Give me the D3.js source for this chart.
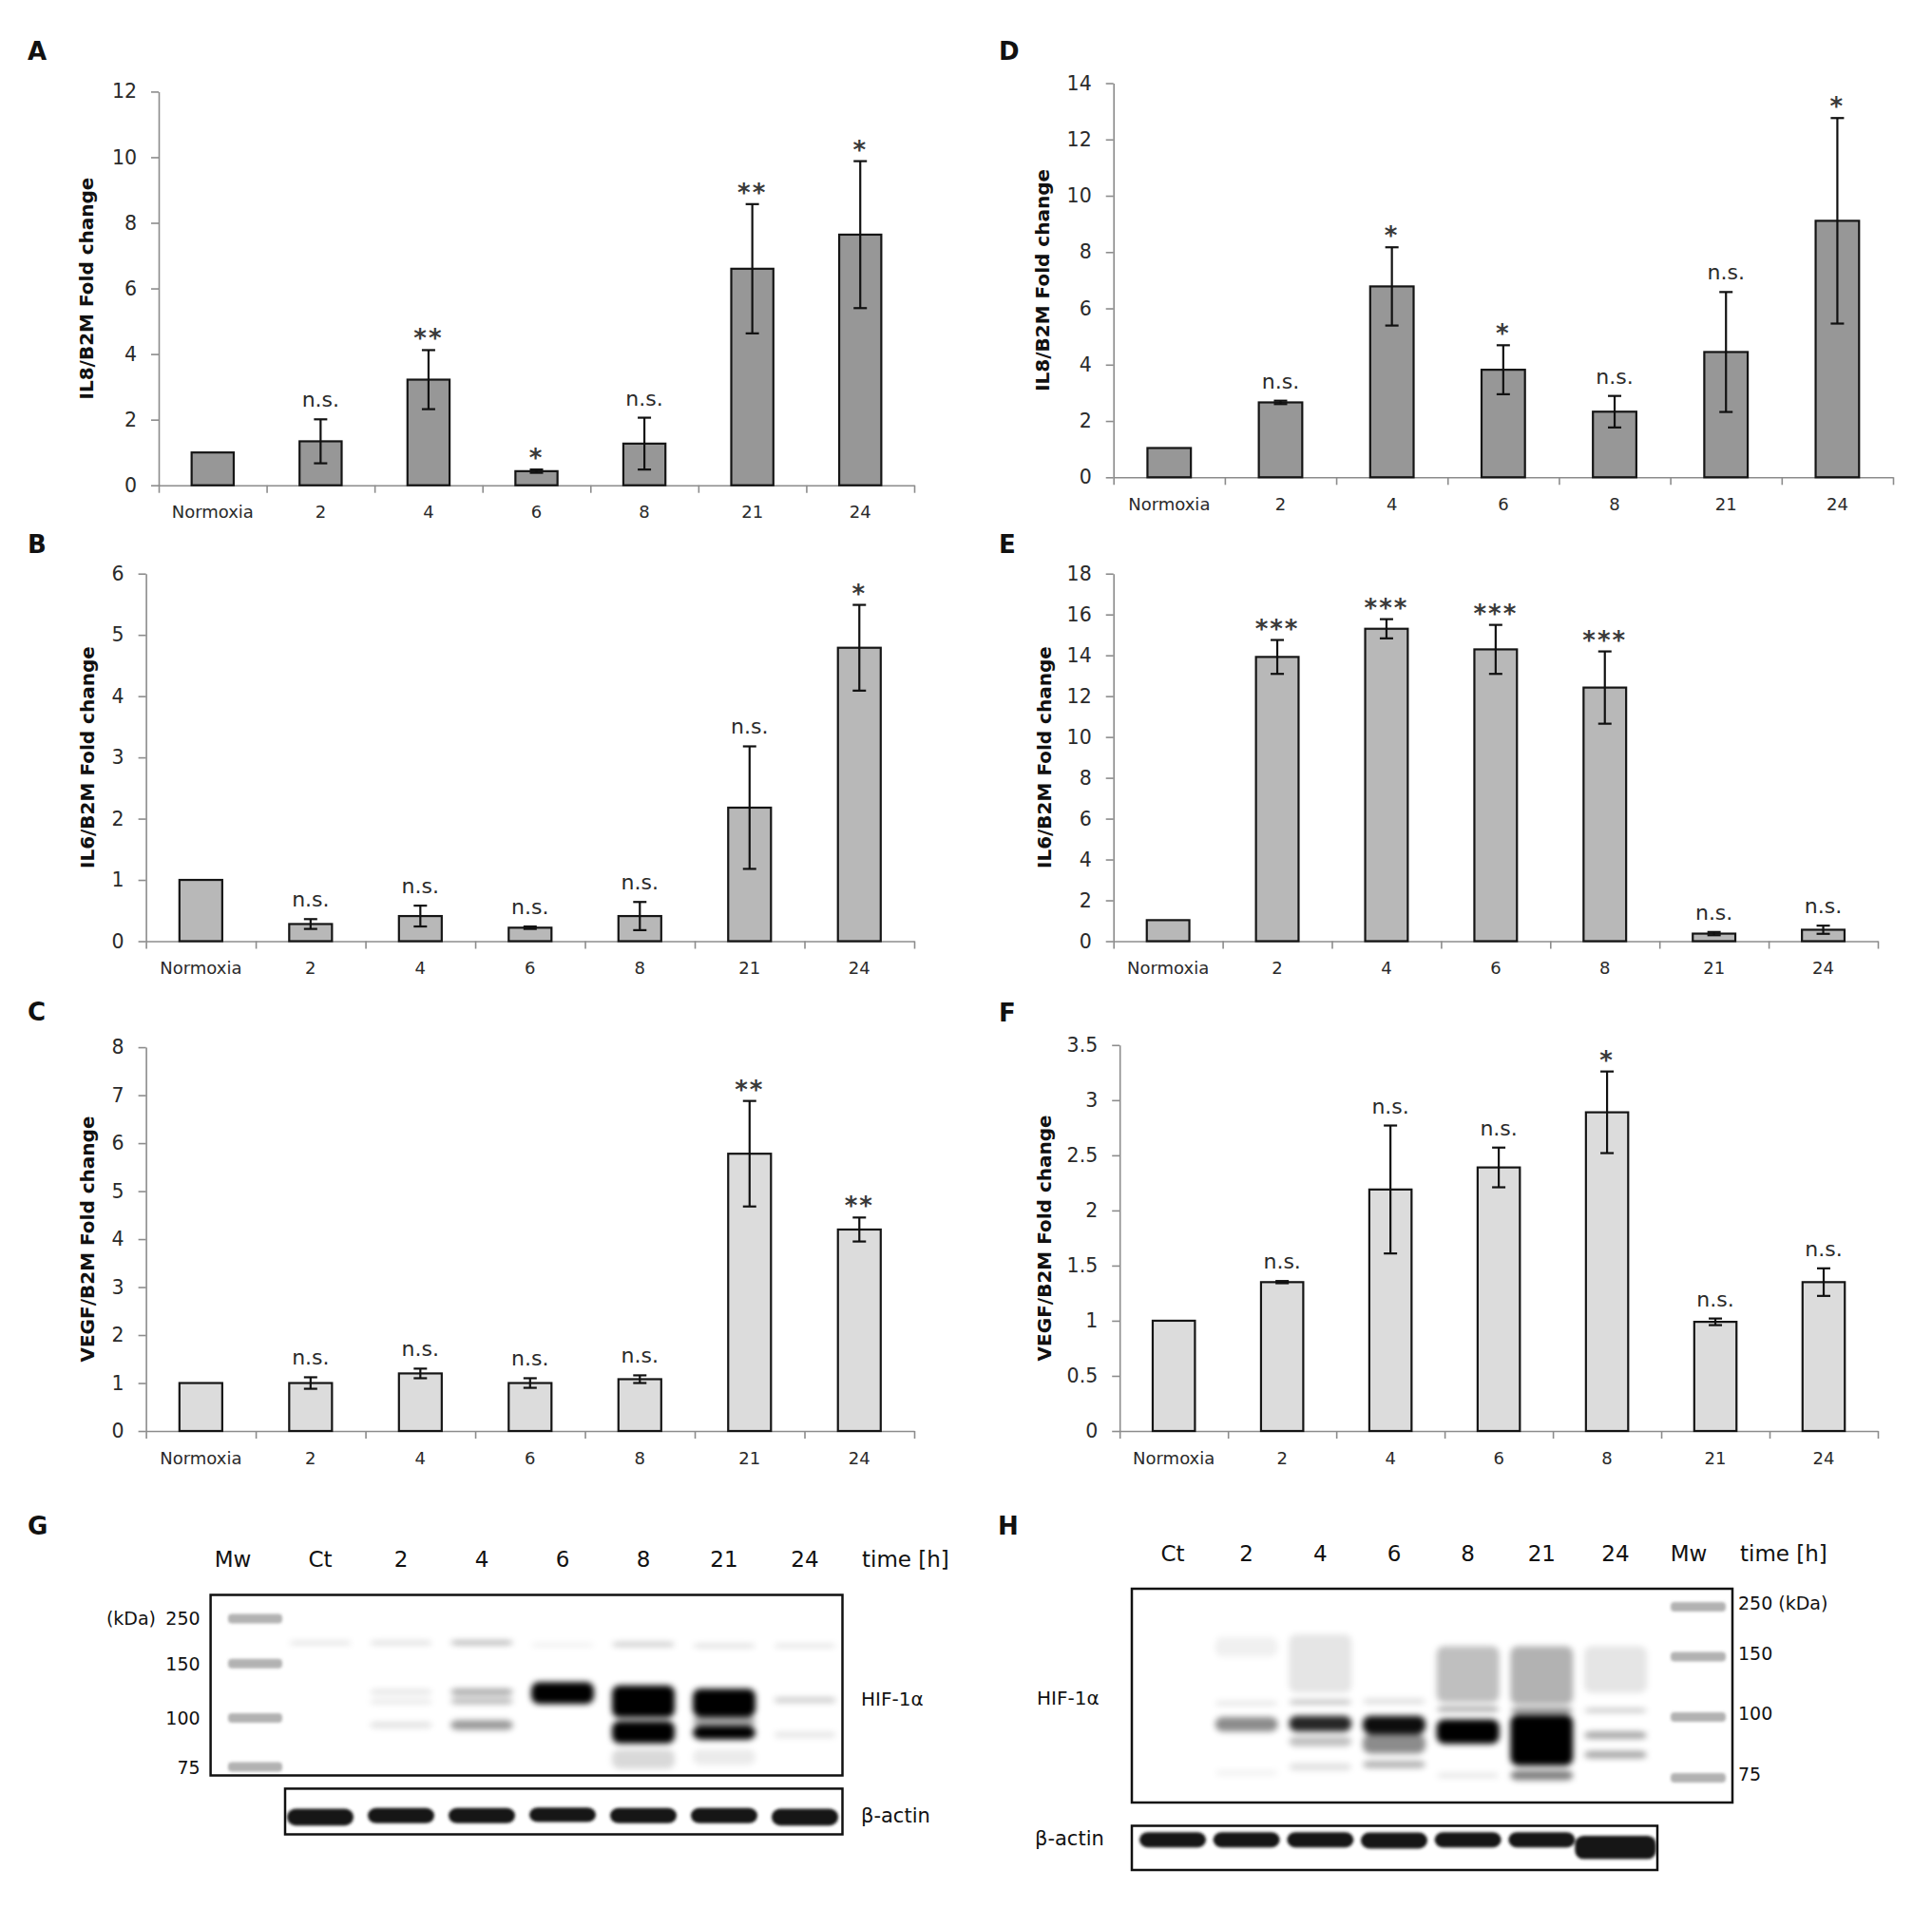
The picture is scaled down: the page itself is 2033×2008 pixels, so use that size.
<!DOCTYPE html>
<html>
<head>
<meta charset="utf-8">
<script src="https://cdn.jsdelivr.net/npm/d3@7"></script>
<style>
  body { margin: 0; background: #fff; }
</style>
</head>
<body>
<script>
// categories shared by all qPCR panels
const categories = ["Normoxia", "2", "4", "6", "8", "21", "24"];

// A: IL8 (left)
const il8LeftMean = [1.0, 1.34, 3.22, 0.43, 1.27, 6.6, 7.64];
const il8LeftErr  = [0, 0.67, 0.9, 0.05, 0.79, 1.97, 2.24];
const il8LeftSig  = ["", "n.s.", "**", "*", "n.s.", "**", "*"];
// D: IL8 (right)
const il8RightMean = [1.04, 2.66, 6.78, 3.82, 2.33, 4.45, 9.11];
const il8RightErr  = [0, 0.06, 1.39, 0.87, 0.56, 2.13, 3.65];
const il8RightSig  = ["", "n.s.", "*", "*", "n.s.", "n.s.", "*"];
// B: IL6 (left)
const il6LeftMean = [1.0, 0.28, 0.41, 0.22, 0.41, 2.18, 4.79];
const il6LeftErr  = [0, 0.08, 0.17, 0.02, 0.23, 1.0, 0.7];
const il6LeftSig  = ["", "n.s.", "n.s.", "n.s.", "n.s.", "n.s.", "*"];
// E: IL6 (right)
const il6RightMean = [1.03, 13.92, 15.3, 14.29, 12.42, 0.37, 0.56];
const il6RightErr  = [0, 0.83, 0.47, 1.2, 1.77, 0.08, 0.2];
const il6RightSig  = ["", "***", "***", "***", "***", "n.s.", "n.s."];
// C: VEGF (left)
const vegfLeftMean = [1.0, 1.0, 1.2, 1.0, 1.08, 5.78, 4.2];
const vegfLeftErr  = [0, 0.12, 0.1, 0.1, 0.08, 1.1, 0.25];
const vegfLeftSig  = ["", "n.s.", "n.s.", "n.s.", "n.s.", "**", "**"];
// F: VEGF (right)
const vegfRightMean = [1.0, 1.35, 2.19, 2.39, 2.89, 0.99, 1.35];
const vegfRightErr  = [0, 0.01, 0.58, 0.18, 0.37, 0.03, 0.125];
const vegfRightSig  = ["", "n.s.", "n.s.", "n.s.", "*", "n.s.", "n.s."];

// western blots
const blotLanes = ["Ct", "2", "4", "6", "8", "21", "24"];
const ladderKDa = [250, 150, 100, 75];
// [lane, kDa upper edge, kDa lower edge, signal 0..1]
const hifBandsG = [
  ["Ct", 200, 194, 0.12], ["2", 200, 194, 0.15], ["4", 201, 193, 0.35],
  ["6", 196, 190, 0.07], ["8", 197, 190, 0.25], ["21", 194, 188, 0.15], ["24", 194, 188, 0.12],
  ["2", 126, 122, 0.12], ["2", 117, 113, 0.1], ["2", 98, 95, 0.12],
  ["4", 127, 121, 0.35], ["4", 118, 113, 0.3], ["4", 99, 94, 0.4],
  ["6", 133, 113, 1],
  ["8", 130, 100.5, 1], ["8", 98.5, 87, 1], ["8", 84, 74, 0.15],
  ["21", 127, 101, 1], ["21", 101, 96, 0.35], ["21", 96, 89, 1], ["21", 84, 76, 0.08],
  ["24", 119, 114, 0.2], ["24", 93, 90, 0.1]
];
const hifBandsH = [
  ["2", 189, 150, 0.06], ["2", 113, 110, 0.12], ["2", 100, 94, 0.45], ["2", 78, 76, 0.06],
  ["4", 195, 120, 0.1], ["4", 114, 111, 0.3], ["4", 101, 94, 0.85], ["4", 92, 88, 0.25], ["4", 81, 78, 0.12],
  ["6", 115, 111, 0.15], ["6", 101, 93, 0.95], ["6", 93, 85, 0.45], ["6", 82, 79, 0.3],
  ["8", 171, 112, 0.25], ["8", 108, 106, 0.45], ["8", 99, 89, 1], ["8", 77, 75, 0.1],
  ["21", 171, 110, 0.3], ["21", 107, 104, 0.6], ["21", 102, 80, 1], ["21", 78, 74, 0.5],
  ["24", 171, 120, 0.1], ["24", 107, 105, 0.25], ["24", 94, 91, 0.35], ["24", 86, 83, 0.35]
];
const actinG = [1.05, 0.95, 0.95, 0.9, 0.95, 0.95, 1.05];
const actinH = [0.95, 0.95, 0.95, 1, 0.95, 0.95, 1.45];

const FONT = "'DejaVu Sans', Verdana, sans-serif";

const svg = d3.select("body").append("svg")
  .attr("width", 2033).attr("height", 2008)
  .style("font-family", FONT);

const defs = svg.append("defs");
defs.append("filter").attr("id", "blur").attr("x", "-20%").attr("y", "-100%").attr("width", "140%").attr("height", "300%")
  .append("feGaussianBlur").attr("stdDeviation", 3);
defs.append("filter").attr("id", "blurSoft").attr("x", "-20%").attr("y", "-100%").attr("width", "140%").attr("height", "300%")
  .append("feGaussianBlur").attr("stdDeviation", 1.6);

// panel letter
const letter = (t, x, y) => svg.append("text").attr("x", x).attr("y", y)
  .attr("font-size", 26).attr("font-weight", "bold").attr("fill", "#111").text(t);

//bar chart with error bars and significance marks
const barPanel = (p, means, errs, sig, fill, title) => {
  const g = svg.append("g");
  const x = d3.scaleBand().domain(categories).range([p.x0, p.x1]);
  const y = d3.scaleLinear().domain([0, p.max]).range([p.yBot, p.yTop]);
  const xEdge = d3.scaleLinear().domain([0, categories.length]).range([p.x0, p.x1]);

  const yAxis = g.append("g").attr("transform", `translate(${p.x0},0)`)
    .call(d3.axisLeft(y)
      .tickValues(d3.range(0, p.max + 1e-9, p.step))
      .tickFormat(d3.format("~g"))
      .tickSize(8).tickSizeOuter(0).tickPadding(15));
  yAxis.select(".domain").attr("stroke", "#8c8c8c").attr("stroke-width", 1.6);
  yAxis.selectAll(".tick line").attr("stroke", "#8c8c8c").attr("stroke-width", 1.6);
  yAxis.selectAll(".tick text").attr("font-family", FONT).attr("font-size", 20.5).attr("fill", "#2a2a2a");

  const xAxis = g.append("g").attr("transform", `translate(0,${p.yBot})`)
    .call(d3.axisBottom(xEdge).tickValues(d3.range(categories.length + 1))
      .tickFormat("").tickSize(8).tickSizeOuter(0));
  xAxis.select(".domain").attr("stroke", "#8c8c8c").attr("stroke-width", 1.6);
  xAxis.selectAll(".tick line").attr("stroke", "#8c8c8c").attr("stroke-width", 1.6);

  const xLabels = g.append("g").attr("transform", `translate(0,${p.yBot})`)
    .call(d3.axisBottom(x).tickSize(0).tickPadding(22));
  xLabels.select(".domain").remove();
  xLabels.selectAll(".tick text").attr("font-family", FONT).attr("font-size", 18).attr("fill", "#2a2a2a");

  const bw = x.bandwidth() * 0.39;
  const rows = categories.map((c, i) => ({ c, m: means[i], e: errs[i], s: sig[i] }));

  g.append("g").selectAll("rect").data(rows).join("rect")
    .attr("x", d => x(d.c) + (x.bandwidth() - bw) / 2)
    .attr("y", d => y(d.m))
    .attr("width", bw)
    .attr("height", d => y(0) - y(d.m))
    .attr("fill", fill).attr("stroke", "#151515").attr("stroke-width", 2.2);

  const cx = d => x(d.c) + x.bandwidth() / 2;
  const eb = g.append("g").attr("stroke", "#111").attr("stroke-width", 2.2)
    .selectAll("g").data(rows.filter(d => d.e > 0)).join("g");
  eb.append("line").attr("x1", cx).attr("x2", cx)
    .attr("y1", d => y(d.m + d.e)).attr("y2", d => y(d.m - d.e));
  eb.append("line").attr("x1", d => cx(d) - 7).attr("x2", d => cx(d) + 7)
    .attr("y1", d => y(d.m + d.e)).attr("y2", d => y(d.m + d.e));
  eb.append("line").attr("x1", d => cx(d) - 7).attr("x2", d => cx(d) + 7)
    .attr("y1", d => y(d.m - d.e)).attr("y2", d => y(d.m - d.e));

  g.append("g").selectAll("text").data(rows.filter(d => d.s)).join("text")
    .attr("x", cx)
    .attr("y", d => y(d.m + d.e) - (d.s === "n.s." ? 13 : 3))
    .attr("text-anchor", "middle")
    .attr("font-size", d => d.s === "n.s." ? 22 : 26)
    .attr("font-weight", d => d.s === "n.s." ? "normal" : "bold")
    .attr("letter-spacing", d => d.s === "n.s." ? 0 : 2)
    .attr("fill", d => d.s === "n.s." ? "#2a2a2a" : "#3a3a3a")
    .text(d => d.s);

  g.append("text")
    .attr("transform", `translate(${p.titleX},${(p.yTop + p.yBot) / 2}) rotate(-90)`)
    .attr("dy", "0.35em").attr("text-anchor", "middle")
    .attr("font-size", 20).attr("font-weight", "bold").attr("fill", "#111")
    .text(title);
};

const gray1 = "#979797", gray2 = "#b8b8b8", gray3 = "#dcdcdc";

barPanel({ x0: 167, x1: 962, yTop: 96.4, yBot: 510.7, titleX: 91, max: 12, step: 2 },
  il8LeftMean, il8LeftErr, il8LeftSig, gray1, "IL8/B2M Fold change");
barPanel({ x0: 1171.7, x1: 1992, yTop: 87.5, yBot: 502.3, titleX: 1097, max: 14, step: 2 },
  il8RightMean, il8RightErr, il8RightSig, gray1, "IL8/B2M Fold change");
barPanel({ x0: 153.6, x1: 962, yTop: 603.7, yBot: 990.5, titleX: 92, max: 6, step: 1 },
  il6LeftMean, il6LeftErr, il6LeftSig, gray2, "IL6/B2M Fold change");
barPanel({ x0: 1171.7, x1: 1976, yTop: 603.7, yBot: 990.5, titleX: 1098.7, max: 18, step: 2 },
  il6RightMean, il6RightErr, il6RightSig, gray2, "IL6/B2M Fold change");
barPanel({ x0: 153.6, x1: 962, yTop: 1102.1, yBot: 1506, titleX: 92, max: 8, step: 1 },
  vegfLeftMean, vegfLeftErr, vegfLeftSig, gray3, "VEGF/B2M Fold change");
barPanel({ x0: 1178.2, x1: 1976, yTop: 1099.8, yBot: 1506, titleX: 1098.7, max: 3.5, step: 0.5 },
  vegfRightMean, vegfRightErr, vegfRightSig, gray3, "VEGF/B2M Fold change");

letter("A", 29, 62.5); letter("D", 1051, 62.5);
letter("B", 29, 582); letter("E", 1051, 582);
letter("C", 29, 1074); letter("F", 1051, 1075);
letter("G", 29, 1615); letter("H", 1050, 1615);

//western blot panel
const blotPanel = (p, bands, actin) => {
  const g = svg.append("g");
  const lane = d3.scalePoint().domain(blotLanes).range(p.laneRange);
  const y = d3.scaleLinear().domain(ladderKDa).range(p.ladderY);
  const txt = (t, x, yy, size, anchor) => g.append("text").attr("x", x).attr("y", yy)
    .attr("font-size", size).attr("text-anchor", anchor || "start").attr("fill", "#111").text(t);

  // header
  blotLanes.forEach(l => txt(l, lane(l), p.headY, 23, "middle"));
  txt("Mw", p.mwHeadX, p.headY, 23, "middle");
  txt("time [h]", p.timeX, p.headY, 23);

  // main membrane
  g.append("rect").attr("x", p.box[0]).attr("y", p.box[1])
    .attr("width", p.box[2] - p.box[0]).attr("height", p.box[3] - p.box[1])
    .attr("fill", "#fff");

  // ladder
  g.append("g").attr("filter", "url(#blurSoft)").selectAll("rect").data(ladderKDa).join("rect")
    .attr("x", p.ladderX[0]).attr("width", p.ladderX[1] - p.ladderX[0])
    .attr("y", d => y(d) - 5).attr("height", 10).attr("rx", 4)
    .attr("fill", "#666").attr("fill-opacity", 0.5);

  // HIF-1a bands
  const bwid = p.bandW;
  g.append("g").attr("filter", "url(#blur)").selectAll("rect").data(bands).join("rect")
    .attr("x", d => lane(d[0]) - bwid / 2).attr("width", bwid)
    .attr("y", d => y(d[1])).attr("height", d => Math.max(4, y(d[2]) - y(d[1])))
    .attr("rx", 8).attr("fill", "#000").attr("fill-opacity", d => d[3]);

  g.append("rect").attr("x", p.box[0]).attr("y", p.box[1])
    .attr("width", p.box[2] - p.box[0]).attr("height", p.box[3] - p.box[1])
    .attr("fill", "none").attr("stroke", "#111").attr("stroke-width", 2.5);

  // MW labels
  ladderKDa.forEach(k => {
    const lab = p.mwSide === "left" ? String(k) : (k === 250 ? "250 (kDa)" : String(k));
    txt(lab, p.mwLabelX, y(k) + p.mwDy, 19, p.mwSide === "left" ? "end" : "start");
  });
  if (p.mwSide === "left") txt("(kDa)", p.kdaX, y(250) + p.mwDy, 19, "end");

  txt("HIF-1\u03b1", p.hifLabel[0], p.hifLabel[1], 20);

  // beta-actin strip
  const a = p.actinBox;
  g.append("rect").attr("x", a[0]).attr("y", a[1]).attr("width", a[2] - a[0]).attr("height", a[3] - a[1])
    .attr("fill", "#fff").attr("stroke", "#111").attr("stroke-width", 2.5);
  const wide = d => d > 1.3 ? 1.22 : 1;
  g.append("g").attr("filter", "url(#blurSoft)").selectAll("rect").data(actin).join("rect")
    .attr("x", (d, i) => lane(blotLanes[i]) - p.actinW / 2 * wide(d))
    .attr("width", d => p.actinW * wide(d))
    .attr("y", d => p.actinY - 8.5 * d + (d - 1) * 16).attr("height", d => 17 * d)
    .attr("rx", 9).attr("fill", "#151515");
  txt("\u03b2-actin", p.actinLabel[0], p.actinLabel[1], 21);
};

blotPanel({
  laneRange: [337, 847], ladderY: [1703.4, 1750.8, 1808.1, 1859.5], headY: 1649,
  mwHeadX: 245, timeX: 907, box: [221.6, 1678.5, 886.5, 1868.5], ladderX: [240, 297],
  bandW: 66, mwSide: "left", mwLabelX: 210.6, kdaX: 164, mwDy: 7, hifLabel: [906, 1795],
  actinBox: [300, 1882.4, 886.5, 1930.5], actinY: 1911.5, actinW: 70, actinLabel: [906, 1918]
}, hifBandsG, actinG);

blotPanel({
  laneRange: [1234, 1700], ladderY: [1691, 1743.5, 1807, 1871], headY: 1643,
  mwHeadX: 1777, timeX: 1831, box: [1191, 1672, 1823, 1897], ladderX: [1758, 1816],
  bandW: 66, mwSide: "right", mwLabelX: 1829, kdaX: 0, mwDy: 3, hifLabel: [1091, 1794],
  actinBox: [1191, 1921.5, 1744, 1968], actinY: 1937, actinW: 70, actinLabel: [1089, 1942]
}, hifBandsH, actinH);
</script>
</body>
</html>
